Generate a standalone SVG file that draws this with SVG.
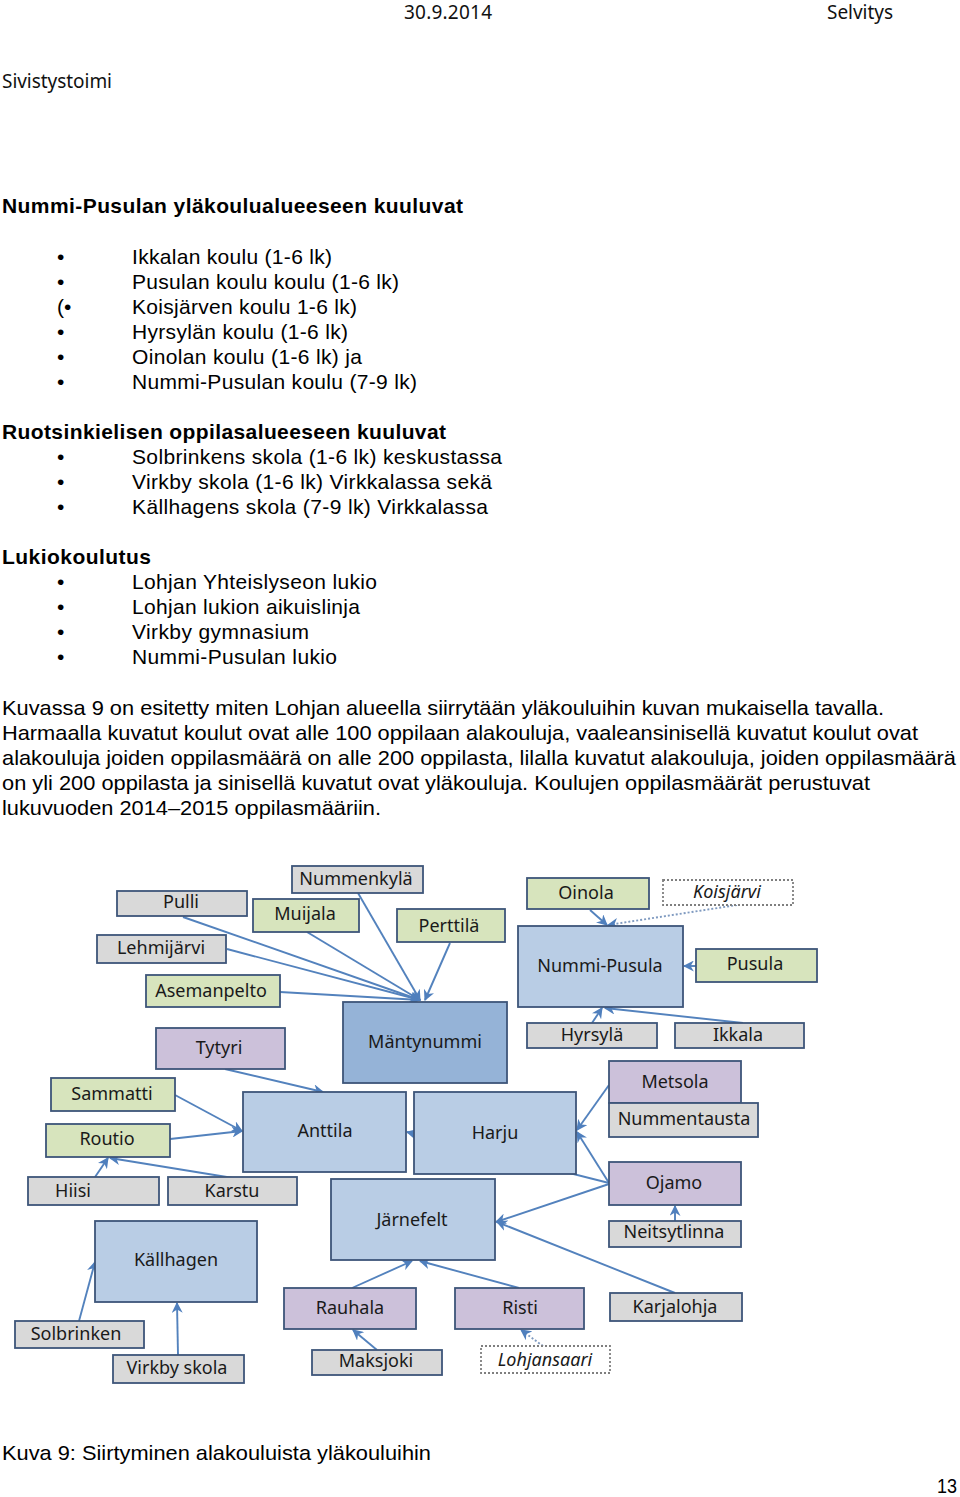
<svg xmlns="http://www.w3.org/2000/svg" width="960" height="1497" viewBox="0 0 960 1497">
<style>
.hd{font-family:"Noto Sans","Open Sans",sans-serif;font-size:19px;fill:#111}
.b{font-family:"Liberation Sans",Arial,sans-serif;font-size:21px;fill:#000}
.bb{font-family:"Liberation Sans",Arial,sans-serif;font-size:21px;font-weight:bold;fill:#000}
.n rect{stroke:#3d5579;stroke-width:1.8}
.n text{font-family:"Noto Sans","Open Sans",sans-serif;font-size:18px;fill:#1a1a1a;text-anchor:middle}
.g rect{fill:#d9d9d9}
.gr rect{fill:#d7e4bd}
.p rect{fill:#ccc1da}
.lb rect{fill:#b9cde5}
.db rect{fill:#95b3d7}
.w rect{fill:#fff;stroke:#7f7f7f;stroke-dasharray:2 2}
.w text{font-style:italic}
#connectors line{stroke:#5382bd;stroke-width:1.9;marker-end:url(#ah)}
#connectors line.dot{stroke-dasharray:2 2;stroke:#7f9ac0}
</style>
<defs>
<marker id="ah" viewBox="0 0 10 10" refX="9" refY="5" markerWidth="11" markerHeight="11" markerUnits="userSpaceOnUse" orient="auto">
<path d="M0,0 L10,5 L0,10 L3,5 z" fill="#4f7fbd"/>
</marker>
</defs>
<rect width="960" height="1497" fill="#fff"/>

<text class="hd" x="404" y="19" textLength="88">30.9.2014</text>
<text class="hd" x="827" y="19" textLength="66">Selvitys</text>
<text class="hd" x="2" y="88" textLength="110">Sivistystoimi</text>

<text class="bb" x="2" y="213" textLength="461">Nummi-Pusulan yläkoulualueeseen kuuluvat</text>
<text class="b" x="57" y="264">•</text>
<text class="b" x="132" y="264" textLength="200">Ikkalan koulu (1-6 lk)</text>
<text class="b" x="57" y="289">•</text>
<text class="b" x="132" y="289" textLength="267">Pusulan koulu koulu (1-6 lk)</text>
<text class="b" x="57" y="314">(•</text>
<text class="b" x="132" y="314" textLength="225">Koisjärven koulu 1-6 lk)</text>
<text class="b" x="57" y="339">•</text>
<text class="b" x="132" y="339" textLength="216">Hyrsylän koulu (1-6 lk)</text>
<text class="b" x="57" y="364">•</text>
<text class="b" x="132" y="364" textLength="230">Oinolan koulu (1-6 lk) ja</text>
<text class="b" x="57" y="389">•</text>
<text class="b" x="132" y="389" textLength="285">Nummi-Pusulan koulu (7-9 lk)</text>

<text class="bb" x="2" y="439" textLength="444">Ruotsinkielisen oppilasalueeseen kuuluvat</text>
<text class="b" x="57" y="464">•</text>
<text class="b" x="132" y="464" textLength="370">Solbrinkens skola (1-6 lk) keskustassa</text>
<text class="b" x="57" y="489">•</text>
<text class="b" x="132" y="489" textLength="360">Virkby skola (1-6 lk) Virkkalassa sekä</text>
<text class="b" x="57" y="514">•</text>
<text class="b" x="132" y="514" textLength="356">Källhagens skola (7-9 lk) Virkkalassa</text>

<text class="bb" x="2" y="564" textLength="149">Lukiokoulutus</text>
<text class="b" x="57" y="589">•</text>
<text class="b" x="132" y="589" textLength="245">Lohjan Yhteislyseon lukio</text>
<text class="b" x="57" y="614">•</text>
<text class="b" x="132" y="614" textLength="228">Lohjan lukion aikuislinja</text>
<text class="b" x="57" y="639">•</text>
<text class="b" x="132" y="639" textLength="177">Virkby gymnasium</text>
<text class="b" x="57" y="664">•</text>
<text class="b" x="132" y="664" textLength="205">Nummi-Pusulan lukio</text>

<text class="b" x="2" y="715" textLength="882" lengthAdjust="spacingAndGlyphs">Kuvassa 9 on esitetty miten Lohjan alueella siirrytään yläkouluihin kuvan mukaisella tavalla.</text>
<text class="b" x="2" y="740" textLength="916" lengthAdjust="spacingAndGlyphs">Harmaalla kuvatut koulut ovat alle 100 oppilaan alakouluja, vaaleansinisellä kuvatut koulut ovat</text>
<text class="b" x="2" y="765" textLength="954" lengthAdjust="spacingAndGlyphs">alakouluja joiden oppilasmäärä on alle 200 oppilasta, lilalla kuvatut alakouluja, joiden oppilasmäärä</text>
<text class="b" x="2" y="790" textLength="868" lengthAdjust="spacingAndGlyphs">on yli 200 oppilasta ja sinisellä kuvatut ovat yläkouluja. Koulujen oppilasmäärät perustuvat</text>
<text class="b" x="2" y="815" textLength="379" lengthAdjust="spacingAndGlyphs">lukuvuoden 2014–2015 oppilasmääriin.</text>

<g id="connectors">
<line x1="183" y1="917" x2="420" y2="1000"/>
<line x1="227" y1="949" x2="420" y2="1000"/>
<line x1="280" y1="992" x2="420" y2="1000"/>
<line x1="307" y1="932" x2="420" y2="1000"/>
<line x1="358" y1="893" x2="420" y2="1000"/>
<line x1="450" y1="943" x2="425" y2="1000"/>
<line x1="225" y1="1069" x2="323" y2="1092"/>
<line x1="175" y1="1095" x2="242" y2="1131"/>
<line x1="170" y1="1139" x2="242" y2="1131"/>
<line x1="95" y1="1177" x2="108" y2="1158"/>
<line x1="233" y1="1178" x2="110" y2="1158"/>
<line x1="609" y1="1183" x2="407" y2="1132"/>
<line x1="609" y1="1085" x2="577" y2="1130"/>
<line x1="609" y1="1183" x2="577" y2="1132"/>
<line x1="609" y1="1184" x2="496" y2="1222"/>
<line x1="675" y1="1293" x2="497" y2="1222"/>
<line x1="675" y1="1221" x2="675" y2="1206"/>
<line x1="352" y1="1288" x2="412" y2="1261"/>
<line x1="519" y1="1288" x2="420" y2="1261"/>
<line x1="377" y1="1350" x2="353" y2="1330"/>
<line class="dot" x1="543" y1="1346" x2="521" y2="1330"/>
<line x1="79" y1="1321" x2="95" y2="1262"/>
<line x1="178" y1="1355" x2="177" y2="1303"/>
<line x1="590" y1="910" x2="607" y2="925"/>
<line class="dot" x1="737" y1="905" x2="608" y2="925"/>
<line x1="696" y1="966" x2="684" y2="966"/>
<line x1="592" y1="1023" x2="602" y2="1008"/>
<line x1="743" y1="1023" x2="605" y2="1008"/>
</g>

<g id="pulli" class="n g"><rect x="117" y="891" width="130" height="25"/><text x="181" y="908">Pulli</text></g>
<g id="lehmijarvi" class="n g"><rect x="97" y="935" width="129" height="28"/><text x="161" y="954">Lehmijärvi</text></g>
<g id="asemanpelto" class="n gr"><rect x="146" y="975" width="134" height="32"/><text x="211" y="997">Asemanpelto</text></g>
<g id="tytyri" class="n p"><rect x="156" y="1028" width="129" height="41"/><text x="219" y="1054">Tytyri</text></g>
<g id="muijala" class="n gr"><rect x="253" y="899" width="106" height="33"/><text x="305" y="920">Muijala</text></g>
<g id="nummenkyla" class="n g"><rect x="292" y="866" width="131" height="27"/><text x="356" y="885">Nummenkylä</text></g>
<g id="perttila" class="n gr"><rect x="397" y="909" width="108" height="33"/><text x="449" y="932">Perttilä</text></g>
<g id="mantynummi" class="n db"><rect x="343" y="1002" width="164" height="81"/><text x="425" y="1048">Mäntynummi</text></g>
<g id="oinola" class="n gr"><rect x="527" y="878" width="122" height="31"/><text x="586" y="899">Oinola</text></g>
<g id="koisjarvi" class="n w"><rect x="663" y="880" width="130" height="25"/><text x="727" y="898">Koisjärvi</text></g>
<g id="nummipusula" class="n lb"><rect x="518" y="926" width="165" height="81"/><text x="600" y="972">Nummi-Pusula</text></g>
<g id="pusula" class="n gr"><rect x="696" y="949" width="121" height="33"/><text x="755" y="970">Pusula</text></g>
<g id="hyrsyla" class="n g"><rect x="527" y="1023" width="130" height="25"/><text x="592" y="1041">Hyrsylä</text></g>
<g id="ikkala" class="n g"><rect x="675" y="1023" width="129" height="25"/><text x="738" y="1041">Ikkala</text></g>
<g id="sammatti" class="n gr"><rect x="51" y="1078" width="124" height="33"/><text x="112" y="1100">Sammatti</text></g>
<g id="routio" class="n gr"><rect x="46" y="1124" width="124" height="33"/><text x="107" y="1145">Routio</text></g>
<g id="hiisi" class="n g"><rect x="28" y="1177" width="131" height="28"/><text x="73" y="1197">Hiisi</text></g>
<g id="karstu" class="n g"><rect x="168" y="1177" width="129" height="28"/><text x="232" y="1197">Karstu</text></g>
<g id="anttila" class="n lb"><rect x="243" y="1092" width="163" height="80"/><text x="325" y="1137">Anttila</text></g>
<g id="harju" class="n lb"><rect x="414" y="1092" width="162" height="82"/><text x="495" y="1139">Harju</text></g>
<g id="metsola" class="n p"><rect x="609" y="1061" width="132" height="42"/><text x="675" y="1088">Metsola</text></g>
<g id="nummentausta" class="n g"><rect x="609" y="1103" width="149" height="34"/><text x="684" y="1125">Nummentausta</text></g>
<g id="ojamo" class="n p"><rect x="609" y="1162" width="132" height="43"/><text x="674" y="1189">Ojamo</text></g>
<g id="neitsytlinna" class="n g"><rect x="609" y="1221" width="132" height="26"/><text x="674" y="1238">Neitsytlinna</text></g>
<g id="jarnefelt" class="n lb"><rect x="331" y="1179" width="164" height="81"/><text x="412" y="1226">Järnefelt</text></g>
<g id="kallhagen" class="n lb"><rect x="95" y="1221" width="162" height="81"/><text x="176" y="1266">Källhagen</text></g>
<g id="solbrinken" class="n g"><rect x="15" y="1321" width="129" height="27"/><text x="76" y="1340">Solbrinken</text></g>
<g id="virkbyskola" class="n g"><rect x="113" y="1355" width="131" height="28"/><text x="177" y="1374">Virkby skola</text></g>
<g id="rauhala" class="n p"><rect x="284" y="1288" width="132" height="41"/><text x="350" y="1314">Rauhala</text></g>
<g id="risti" class="n p"><rect x="455" y="1288" width="129" height="41"/><text x="520" y="1314">Risti</text></g>
<g id="karjalohja" class="n g"><rect x="610" y="1293" width="132" height="28"/><text x="675" y="1313">Karjalohja</text></g>
<g id="maksjoki" class="n g"><rect x="312" y="1350" width="130" height="25"/><text x="376" y="1367">Maksjoki</text></g>
<g id="lohjansaari" class="n w"><rect x="481" y="1346" width="129" height="27"/><text x="545" y="1366">Lohjansaari</text></g>

<text class="b" x="2" y="1460" textLength="429" lengthAdjust="spacingAndGlyphs">Kuva 9: Siirtyminen alakouluista yläkouluihin</text>
<text class="b" x="937" y="1493" textLength="20" lengthAdjust="spacingAndGlyphs">13</text>
</svg>
